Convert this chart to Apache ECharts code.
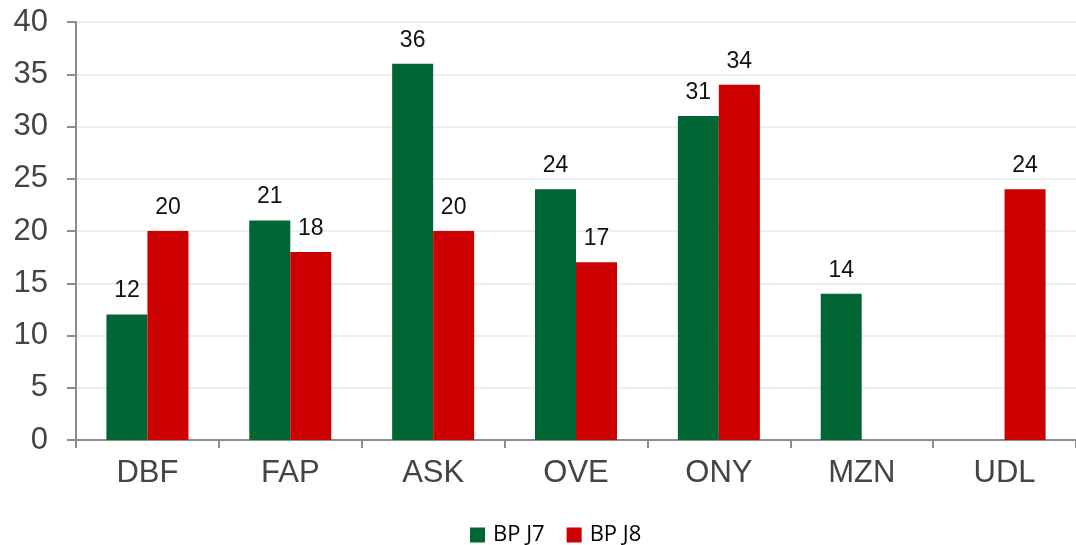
<!DOCTYPE html>
<html><head><meta charset="utf-8">
<script src="https://cdn.jsdelivr.net/npm/echarts@6/dist/echarts.min.js"></script>
<style>html,body{margin:0;padding:0;background:#fff}#c{width:1076px;height:545px}</style>
</head><body><div id="c"></div>
<script>
const categories = ['DBF','FAP','ASK','OVE','ONY','MZN','UDL'];
const bpJ7 = [12, 21, 36, 24, 31, 14, null];
const bpJ8 = [20, 18, 20, 17, 34, null, 24];
const seriesNames = ['BP J7','BP J8'];
const chart = echarts.init(document.getElementById('c'));
const lbl = {show:true, position:'top', distance:12, color:'#111', fontSize:23, fontFamily:'Liberation Sans'};
chart.setOption({
  animation:false,
  grid:{left:76, right:0, top:22, bottom:105},
  legend:{top:523, left:470, padding:0, itemWidth:15, itemHeight:15, itemGap:22, icon:'rect',
    textStyle:{fontSize:22, lineHeight:24, color:'#000', fontFamily:'Open Sans', padding:[0,0,0,3]}, data:seriesNames},
  xAxis:{type:'category', data:categories,
    axisLine:{lineStyle:{color:'#8c8c8c', width:2}},
    axisTick:{show:true, length:8, lineStyle:{color:'#8c8c8c', width:2}},
    axisLabel:{fontSize:31, color:'#444', margin:18, fontFamily:'Liberation Sans'}},
  yAxis:{type:'value', min:0, max:40, interval:5,
    axisLine:{show:true, lineStyle:{color:'#8c8c8c', width:2}},
    axisTick:{show:true, length:9, lineStyle:{color:'#8c8c8c', width:2}},
    splitLine:{lineStyle:{color:'#e6e9f0', width:1.5}},
    axisLabel:{fontSize:31, color:'#444', margin:28, fontFamily:'Liberation Sans'}},
  series:[
    {name:seriesNames[0], type:'bar', data:bpJ7, barWidth:41, barGap:'0%', itemStyle:{color:'#006633'}, label:lbl},
    {name:seriesNames[1], type:'bar', data:bpJ8, barWidth:41, barGap:'0%', itemStyle:{color:'#cc0000'}, label:lbl}
  ]
});
</script></body></html>
